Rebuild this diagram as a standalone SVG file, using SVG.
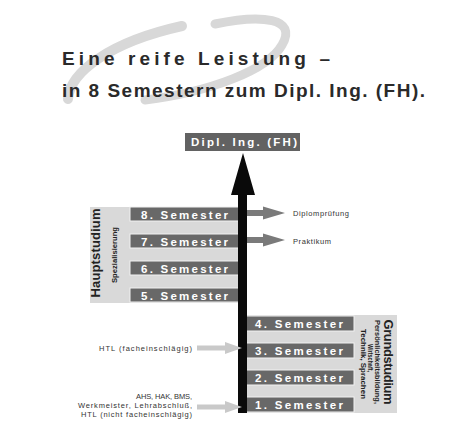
<svg xmlns="http://www.w3.org/2000/svg" width="468" height="429" viewBox="0 0 468 429">
<defs>
<style>
.title{font-family:"Liberation Sans","DejaVu Sans",sans-serif;font-weight:bold;font-size:19px;fill:#2a2a2a}
.panel{fill:#d9d9d9}
.box{fill:#686868;stroke:#f2f2f2;stroke-width:1}
.sem{font-family:"Liberation Sans","DejaVu Sans",sans-serif;font-weight:bold;font-size:11.5px;fill:#ffffff}
.small{font-family:"Liberation Sans","DejaVu Sans",sans-serif;font-size:7.5px;fill:#333}
.head{font-family:"Liberation Sans","DejaVu Sans",sans-serif;font-weight:bold;font-size:13px;fill:#222}
.sub{font-family:"Liberation Sans","DejaVu Sans",sans-serif;font-weight:bold;font-size:7px;fill:#222}
.gray-arrow{fill:#7a7a7a}
.light-arrow{fill:#c9c9c9}
</style>
</defs>
<rect width="468" height="429" fill="#ffffff"/>
<g id="swoosh" fill="none" stroke="#d8d8d8" stroke-linecap="round">
<path d="M 68 99 C 70 72, 110 42, 182 26" stroke-width="10"/>
<path d="M 215 24 C 262 14, 298 18, 282 45 C 268 70, 210 92, 145 100" stroke-width="9"/>
</g>
<g id="title">
<text class="title" x="62" y="65" textLength="268" lengthAdjust="spacing">Eine reife Leistung –</text>
<text class="title" x="62" y="97" textLength="363" lengthAdjust="spacing">in 8 Semestern zum Dipl. Ing. (FH).</text>
</g>
<g id="haupt-panel">
<rect class="panel" x="90" y="207" width="150" height="96"/>
<text class="head" transform="translate(100,253) rotate(-90)" text-anchor="middle" textLength="89" lengthAdjust="spacing">Hauptstudium</text>
<text class="sub" transform="translate(117,255) rotate(-90)" text-anchor="middle" textLength="56" lengthAdjust="spacingAndGlyphs">Spezialisierung</text>
</g>
<g id="grund-panel">
<rect class="panel" x="240" y="315" width="157" height="98"/>
<text class="head" transform="translate(384,362) rotate(90)" text-anchor="middle" textLength="85" lengthAdjust="spacing">Grundstudium</text>
<text class="sub" transform="translate(375,362) rotate(90)" text-anchor="middle" textLength="84" lengthAdjust="spacingAndGlyphs">Persönlichkeitsbildung,</text>
<text class="sub" transform="translate(368,358) rotate(90)" text-anchor="middle" textLength="28" lengthAdjust="spacingAndGlyphs">Wirtschaft,</text>
<text class="sub" transform="translate(361,364) rotate(90)" text-anchor="middle" textLength="70" lengthAdjust="spacingAndGlyphs">Technik, Sprachen</text>
</g>
<g id="sem8"><rect class="box" x="130" y="207" width="110" height="14"/><text class="sem" x="141" y="218.5" textLength="87" lengthAdjust="spacing">8. Semester</text></g>
<g id="sem7"><rect class="box" x="130" y="234" width="110" height="14"/><text class="sem" x="141" y="245.5" textLength="87" lengthAdjust="spacing">7. Semester</text></g>
<g id="sem6"><rect class="box" x="130" y="261" width="110" height="14"/><text class="sem" x="141" y="272.5" textLength="87" lengthAdjust="spacing">6. Semester</text></g>
<g id="sem5"><rect class="box" x="130" y="288" width="110" height="14"/><text class="sem" x="141" y="299.5" textLength="87" lengthAdjust="spacing">5. Semester</text></g>
<g id="sem4"><rect class="box" x="240" y="316" width="114" height="15"/><text class="sem" x="255" y="328" textLength="88" lengthAdjust="spacing">4. Semester</text></g>
<g id="sem3"><rect class="box" x="240" y="343" width="114" height="15"/><text class="sem" x="255" y="355" textLength="88" lengthAdjust="spacing">3. Semester</text></g>
<g id="sem2"><rect class="box" x="240" y="370" width="114" height="15"/><text class="sem" x="255" y="382" textLength="88" lengthAdjust="spacing">2. Semester</text></g>
<g id="sem1"><rect class="box" x="240" y="397" width="114" height="15"/><text class="sem" x="255" y="409" textLength="88" lengthAdjust="spacing">1. Semester</text></g>
<g id="diplom">
<rect x="185" y="133" width="115" height="18" fill="#626262"/>
<text class="sem" x="191" y="146" font-size="10.5" textLength="106" lengthAdjust="spacing">Dipl. Ing. (FH)</text>
</g>
<g id="connectors">
<polygon fill="#0a0a0a" points="238,413 238,195 231,195 243,153 255,195 247,195 247,413"/>
<polygon class="gray-arrow" points="247,210 263,210 263,206.5 285,213 263,219.5 263,216 247,216"/>
<polygon class="gray-arrow" points="247,237 263,237 263,233.5 285,240 263,246.5 263,243 247,243"/>
<polygon class="light-arrow" points="197,345.5 225,345.5 225,342 242,348 225,354 225,350.5 197,350.5"/>
<polygon class="light-arrow" points="197,404.5 225,404.5 225,401 242,407 225,413 225,409.5 197,409.5"/>
</g>
<g id="labels">
<text class="small" x="293" y="216" textLength="56" lengthAdjust="spacing">Diplomprüfung</text>
<text class="small" x="293" y="244" textLength="38" lengthAdjust="spacing">Praktikum</text>
<text class="small" x="192" y="351" text-anchor="end" textLength="93" lengthAdjust="spacing">HTL (facheinschlägig)</text>
<text class="small" x="192" y="399" text-anchor="end" textLength="56" lengthAdjust="spacing">AHS, HAK, BMS,</text>
<text class="small" x="192" y="408" text-anchor="end" textLength="114" lengthAdjust="spacing">Werkmeister, Lehrabschluß,</text>
<text class="small" x="192" y="417" text-anchor="end" textLength="111" lengthAdjust="spacing">HTL (nicht facheinschlägig)</text>
</g>
</svg>
